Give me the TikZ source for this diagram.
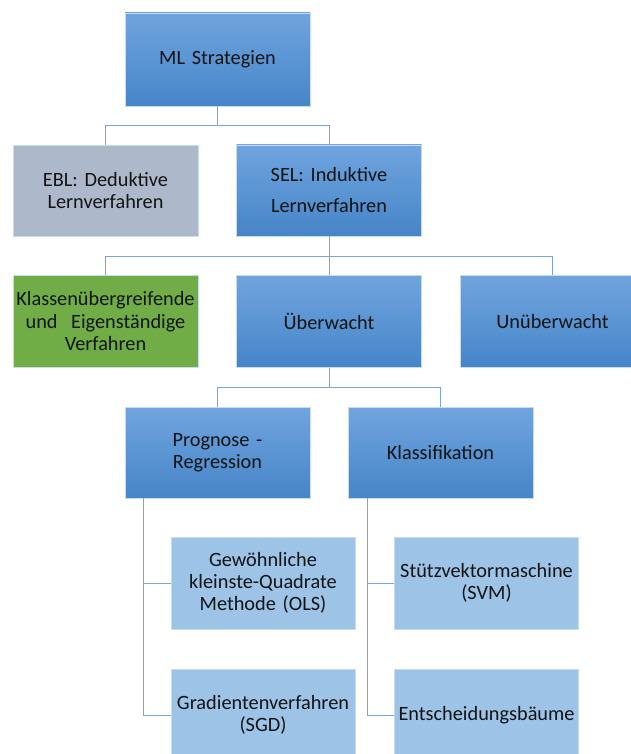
\documentclass[tikz,border=0pt]{standalone}
\usepackage{fontspec}
\setmainfont[WordSpace=0.85]{Carlito}
\definecolor{boxtop}{RGB}{112,164,222}
\definecolor{boxbot}{RGB}{70,133,200}
\definecolor{greybox}{RGB}{173,185,202}
\definecolor{greenbox}{RGB}{112,173,71}
\definecolor{paleblue}{RGB}{157,195,230}
\definecolor{linkcol}{RGB}{125,166,214}
\definecolor{edgecol}{RGB}{200,220,240}
\begin{document}
\begin{tikzpicture}[x=1pt,y=-1pt,
  base/.style={rectangle, inner sep=0pt, minimum width=185pt, text width=182pt,
    align=center, draw=edgecol, line width=0.6pt,
    font=\fontsize{20.3}{22}\selectfont, text=black!92},
  bluebox/.style={base, top color=boxtop, bottom color=boxbot},
  greybox/.style={base, fill=greybox},
  greenbox/.style={base, fill=greenbox},
  leafbox/.style={base, fill=paleblue, minimum width=184pt},
  link/.style={draw=linkcol, line width=0.9pt}]
\useasboundingbox (0,0) rectangle (631,754);
\clip (0,0) rectangle (631,754);

% level 0
\node[bluebox, minimum height=93pt] (ml) at (217.5,59.5) {ML Strategien};

% level 1
\node[greybox, minimum height=91pt] (ebl) at (105.5,190.5) {EBL: Deduktive\\Lernverfahren};
\node[bluebox, minimum height=91pt, font=\fontsize{20.3}{31}\selectfont] (sel) at (329,190.5) {SEL: Induktive\\Lernverfahren};

% level 2
\node[greenbox, minimum height=92pt, font=\fontsize{20.3}{22.5}\selectfont] (klu) at (105.5,321.5) {Klassenübergreifende\\und\ \ Eigenständige\\Verfahren};
\node[bluebox, minimum height=92pt] (ueb) at (329,321.5) {Überwacht};
\node[bluebox, minimum height=92pt] (unueb) at (552.5,321.5) {Unüberwacht};

% level 3
\node[bluebox, minimum height=91pt] (prog) at (217.5,452.5) {Prognose -\\Regression};
\node[bluebox, minimum height=91pt] (klass) at (440.5,452.5) {Klassifikation};

% leaves
\node[leafbox, minimum height=92pt] (ols) at (263,583) {Gewöhnliche\\kleinste-Quadrate\\Methode (OLS)};
\node[leafbox, minimum height=92pt] (sgd) at (263,715) {Gradientenverfahren\\(SGD)};
\node[leafbox, minimum height=92pt] (svm) at (486.5,583) {Stützvektormaschine\\(SVM)};
\node[leafbox, minimum height=92pt] (ent) at (486.5,715) {Entscheidungsbäume};

% junctions
\coordinate (j1) at (217.5,125);
\coordinate (j2) at (329,256);
\coordinate (j3) at (329,387);
\coordinate (pr) at ([xshift=-74.5pt]prog.south);
\coordinate (kr) at ([xshift=-73.5pt]klass.south);

% connectors
\draw[link] (ml.south) -- (j1) -| (ebl.north);
\draw[link] (j1) -| (sel.north);
\draw[link] (sel.south) -- (ueb.north);
\draw[link] (j2) -| (klu.north);
\draw[link] (j2) -| (unueb.north);
\draw[link] (ueb.south) -- (j3) -| (prog.north);
\draw[link] (j3) -| (klass.north);
\draw[link] (pr) |- (sgd.west);
\draw[link] (pr) |- (ols.west);
\draw[link] (kr) |- (ent.west);
\draw[link] (kr) |- (svm.west);
\end{tikzpicture}
\end{document}
